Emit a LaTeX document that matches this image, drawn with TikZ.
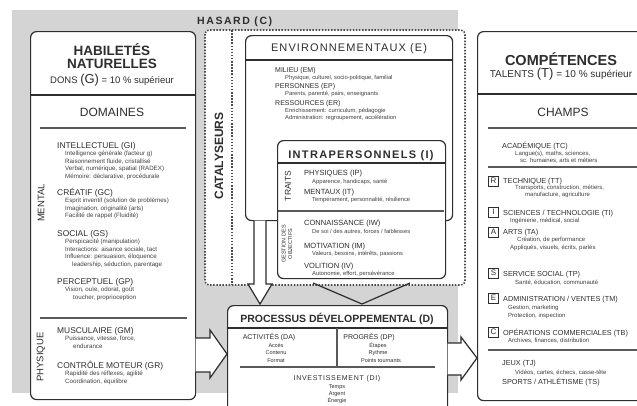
\documentclass[tikz,border=0pt]{standalone}
\usepackage{fontspec}
\setmainfont{Liberation Sans}
\newcommand{\myfs}[1]{\fontsize{#1}{#1}\selectfont}
\newcommand{\lsp}[1]{\addfontfeature{LetterSpace=#1}}
\colorlet{ink}{black!82}
\colorlet{hasardgray}{black!17}
\newcommand{\grp}[7]{%
  \node[hd] (#1) at (#2,#3) {#4};
  \foreach \mytext [count=\i] in {#7} {\node[sb] (#1\i) at (#5,#3+#6*\i) {\mytext};}
}
\begin{document}
\begin{tikzpicture}[x=1pt,y=-1pt,
  box/.style={draw=ink,line width=1.2pt,rounded corners=6pt,fill=white,inner sep=0},
  rule/.style={draw=ink,line width=1.2pt},
  irule/.style={draw=black!65,line width=1.4pt},
  dots/.style={draw=black!70,line width=1.6pt,dash pattern=on 1.5pt off 1.6pt,rounded corners=4pt},
  arr/.style={draw=ink,line width=1.2pt,line join=miter},
  ttl/.style={inner sep=0,anchor=base,text=ink},
  vlab/.style={inner sep=0,rotate=90,text=ink},
  icon/.style={draw=ink,line width=0.8pt,minimum size=10pt,inner sep=0,font=\myfs{8},text=ink},
  hd/.style={anchor=base west,inner sep=0,text=ink},
  sb/.style={anchor=base west,inner sep=0,text=black!75}]
\clip (0,0) rectangle (637,405);
\fill[white] (0,0) rectangle (637,405);
\fill[hasardgray] (12,10) rectangle (458,393);
\node[font=\bfseries\myfs{10.5}\lsp{15},text=ink,anchor=base west,inner sep=0] (hasardt) at (197,24) {HASARD (C)};

% ---------- left box
\node[box,anchor=north west,minimum width=165pt,minimum height=368pt] (hab) at (30,31) {};
\node[ttl,font=\bfseries\myfs{13.5}] (habt1) at (112,55.5) {HABILETÉS};
\node[ttl,font=\bfseries\myfs{13.5}] (habt2) at (112,68.5) {NATURELLES};
\node[ttl,font=\myfs{9.5}] (dons) at (112,83) {DONS {\myfs{13}(G)} = 10 \% supérieur};
\draw[rule] (30,95) -- (195,95);
\node[ttl,font=\myfs{12}] (dom) at (112,116) {DOMAINES};
\draw[irule] (40,128) -- (186,128);
\draw[irule] (40,318) -- (187,318);
\node[vlab,font=\myfs{9.5}] (mental) at (41,203) {MENTAL};
\node[vlab,font=\myfs{9.5}] (physq) at (41,357) {PHYSIQUE};
\begin{scope}[hd/.append style={font=\myfs{8.4}},sb/.append style={font=\myfs{6.2}}]
\grp{gi}{57}{148}{INTELLECTUEL (GI)}{65}{7.6}{{Intelligence générale (facteur g)},{Raisonnement fluide, cristallisé},{Verbal, numérique, spatial (RADEX)},{Mémoire: déclarative, procédurale}}
\grp{gc}{57}{195}{CRÉATIF (GC)}{65}{7.6}{{Esprit inventif (solution de problèmes)},{Imagination, originalité (arts)},{Facilité de rappel (Fluidité)}}
\grp{gs}{57}{236}{SOCIAL (GS)}{65}{7.6}{{Perspicacité (manipulation)},{Interactions: aisance sociale, tact},{Influence: persuasion, éloquence},{\hspace{7pt}leadership, séduction, parentage}}
\grp{gp}{57}{284}{PERCEPTUEL (GP)}{65}{7.6}{{Vision, ouïe, odorat, goût},{\hspace{8pt}toucher, proprioception}}
\grp{gm}{57}{333}{MUSCULAIRE (GM)}{65}{7.6}{{Puissance, vitesse, force,},{\hspace{8pt}endurance}}
\grp{gr}{57}{368}{CONTRÔLE MOTEUR (GR)}{65}{7.6}{{Rapidité des réflexes, agilité},{Coordination, équilibre}}
\end{scope}

% ---------- catalyseurs
\draw[dots,fill=white] (205,30) rectangle (465,285);
\draw[dots] (232,30) -- (232,285);
\node[vlab,font=\bfseries\myfs{12}] (cat) at (219,156) {CATALYSEURS};

% environnementaux
\node[box,anchor=north west,minimum width=207pt,minimum height=185pt] (env) at (245,35) {};
\node[ttl,font=\myfs{11}\lsp{10}] (envt) at (349,51) {ENVIRONNEMENTAUX (E)};
\draw[rule] (245,60) -- (452,60);
\begin{scope}[hd/.append style={font=\myfs{7}},sb/.append style={font=\myfs{5.8}}]
\grp{em}{275}{72.5}{MILIEU (EM)}{285}{7}{{Physique, culturel, socio-politique, familial}}
\grp{ep}{275}{88.5}{PERSONNES (EP)}{285}{7}{{Parents, parenté, pairs, enseignants}}
\grp{er}{275}{105.5}{RESSOURCES (ER)}{285}{7}{{Enrichissement: curriculum, pédagogie},{Administration: regroupement, accélération}}
\end{scope}

% intrapersonnels
\node[box,anchor=north west,minimum width=168pt,minimum height=138pt] (intra) at (277,140) {};
\node[ttl,font=\bfseries\myfs{11}\lsp{12}] (intrat) at (361,158.5) {INTRAPERSONNELS (I)};
\draw[rule] (277,163) -- (445,163);
\draw[irule] (278,211) -- (444,211);
\node[vlab,font=\myfs{8.5}] (traits) at (288,186) {TRAITS};
\node[vlab,font=\fontsize{5.5}{6.5}\selectfont,align=center] (gest) at (287,244) {GESTION DES\\OBJECTIFS};
\begin{scope}[hd/.append style={font=\myfs{7.5}},sb/.append style={font=\myfs{5.8}}]
\grp{ip}{304}{175.5}{PHYSIQUES (IP)}{312}{7.8}{{Apparence, handicaps, santé}}
\grp{it}{304}{194}{MENTAUX (IT)}{312}{7.8}{{Tempérament, personnalité, résilience}}
\grp{iw}{304}{225.5}{CONNAISSANCE (IW)}{312}{7.8}{{De soi / des autres, forces / faiblesses}}
\grp{im}{304}{248}{MOTIVATION (IM)}{312}{7.8}{{Valeurs, besoins, intérêts, passions}}
\grp{iv}{304}{268}{VOLITION (IV)}{312}{7.6}{{Autonomie, effort, persévérance}}
\end{scope}

% arrows from catalysts
\fill[white] (254,220.6) -- (254,284) -- (248,284) -- (260,304) -- (272,284) -- (266,284) -- (266,220.6) -- cycle;
\draw[arr] (254,220.6) -- (254,284) -- (248,284) -- (260,304) -- (272,284) -- (266,284) -- (266,220.6);
\draw[arr] (313,283) -- (362,304) -- (410,283);

% ---------- processus
\node[box,anchor=north west,minimum width=220pt,minimum height=120pt] (proc) at (227,305) {};
\node[ttl,font=\bfseries\myfs{10.5}] (proct) at (337,322) {PROCESSUS DÉVELOPPEMENTAL (D)};
\draw[rule] (227,328) -- (447,328);
\draw[irule] (337,328) -- (337,367);
\draw[irule] (240,367) -- (435,367);
\node[ttl,font=\myfs{7}] (da) at (269,339.5) {ACTIVITÉS (DA)};
\node[ttl,font=\myfs{5.5}] (da1) at (276,347.5) {Accès};
\node[ttl,font=\myfs{5.5}] (da2) at (276,354.5) {Contenu};
\node[ttl,font=\myfs{5.5}] (da3) at (276,362) {Format};
\node[ttl,font=\myfs{7}] (dp) at (369,339.5) {PROGRÈS (DP)};
\node[ttl,font=\myfs{5.5}] (dp1) at (378,347.5) {Étapes};
\node[ttl,font=\myfs{5.5}] (dp2) at (378,354.5) {Rythme};
\node[ttl,font=\myfs{5.5}] (dp3) at (381,362) {Points tournants};
\node[ttl,font=\myfs{7}\lsp{10}] (di) at (337,380) {INVESTISSEMENT (DI)};
\node[ttl,font=\myfs{5.5}] (di1) at (337,388) {Temps};
\node[ttl,font=\myfs{5.5}] (di2) at (337,395) {Argent};
\node[ttl,font=\myfs{5.5}] (di3) at (337,402) {Énergie};

% block arrows into processus
\filldraw[arr,fill=white] (195.6,338) -- (210,338) -- (210,330) -- (227,354) -- (210,378) -- (210,372) -- (195.6,372);
\filldraw[arr,fill=white] (447.6,343) -- (461,343) -- (461,337) -- (477,358) -- (461,380) -- (461,375) -- (447.6,375);

% ---------- competences
\node[box,anchor=north west,minimum width=168pt,minimum height=369pt] (comp) at (477,31) {};
\node[ttl,font=\bfseries\myfs{14.5}] (compt) at (561,65) {COMPÉTENCES};
\node[ttl,font=\myfs{10}] (tal) at (561,77) {TALENTS {\myfs{13}(T)} = 10 \% supérieur};
\draw[rule] (477,94) -- (645,94);
\node[ttl,font=\myfs{12}] (champs) at (563,116) {CHAMPS};
\draw[irule] (488,128) -- (637,128);
\draw[irule] (488,167) -- (637,167);
\draw[irule] (488,350) -- (637,350);
\node[icon] (ir) at (493.5,181) {R};
\node[icon] (ii) at (493.5,212) {I};
\node[icon] (ia) at (493.5,232) {A};
\node[icon] (is) at (493.5,273) {S};
\node[icon] (ie) at (493.5,298) {E};
\node[icon] (ic) at (493.5,332) {C};
\begin{scope}[hd/.append style={font=\myfs{7.3}},sb/.append style={font=\myfs{6}}]
\grp{tc}{502}{148}{ACADÉMIQUE (TC)}{515}{7}{{Langue(s), maths, sciences,},{\hspace{5pt}sc. humaines, arts et métiers}}
\grp{tt}{503}{183}{TECHNIQUE (TT)}{515}{6.8}{{Transports, construction, métiers,},{\hspace{10pt}manufacture, agriculture}}
\grp{ti}{503}{215}{SCIENCES / TECHNOLOGIE (TI)}{510}{7.5}{{Ingénierie, médical, social}}
\grp{ta}{503}{234}{ARTS (TA)}{510}{7.8}{{\hspace{7pt}Création, de performance},{Appliqués, visuels, écrits, parlés}}
\grp{tp}{503}{276}{SERVICE SOCIAL (TP)}{515}{8}{{Santé, éducation, communauté}}
\grp{tm}{503}{301}{ADMINISTRATION / VENTES (TM)}{508}{8}{{Gestion, marketing},{Protection, inspection}}
\grp{tb}{503}{335}{OPÉRATIONS COMMERCIALES (TB)}{508}{7}{{Archives, finances, distribution}}
\grp{tj}{502}{365.5}{JEUX (TJ)}{515}{8.5}{{Vidéos, cartes, échecs, casse-tête}}
\node[hd,font=\myfs{7.3}] (ts) at (502,384) {SPORTS / ATHLÉTISME (TS)};
\end{scope}
\end{tikzpicture}
\end{document}
